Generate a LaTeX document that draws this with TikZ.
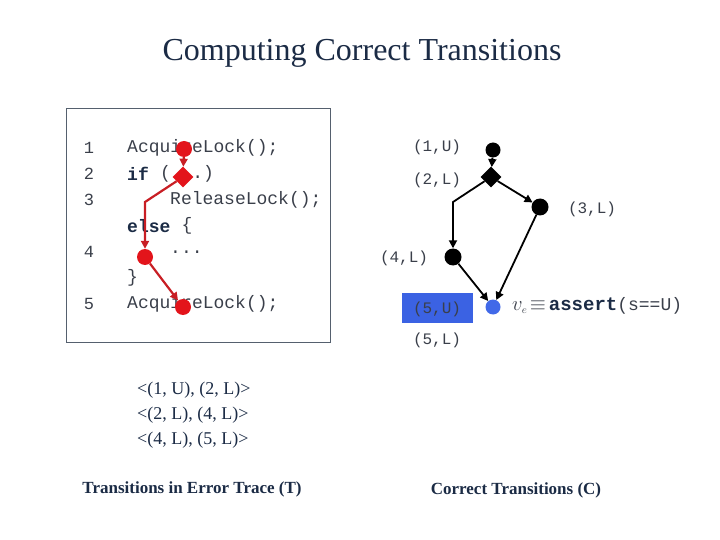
\documentclass[tikz,border=0pt]{standalone}
\usepackage{fontspec}
\setmainfont{Liberation Serif}
\setmonofont{Liberation Mono}
\usetikzlibrary{shapes.geometric,arrows.meta}
\definecolor{navy}{HTML}{1B2B45}
\definecolor{codegray}{HTML}{3A3F4A}
\definecolor{redn}{HTML}{E3141B}
\definecolor{rede}{HTML}{C81E24}
\definecolor{bluen}{HTML}{4169E8}
\definecolor{bluer}{HTML}{3B62E3}
\definecolor{boxc}{HTML}{55606E}
\begin{document}
\begin{tikzpicture}[x=1bp,y=-1bp,
  code/.style={font=\fontsize{18bp}{20bp}\ttfamily, text=codegray, inner sep=0, anchor=west},
  kw/.style={font=\fontsize{18bp}{20bp}\ttfamily\bfseries, text=navy, inner sep=0, anchor=west},
  lnum/.style={font=\fontsize{17bp}{20bp}\ttfamily, text=codegray, inner sep=0},
  lbl/.style={font=\fontsize{16bp}{18bp}\ttfamily, text=codegray, inner sep=0},
  serif/.style={font=\fontsize{18bp}{20bp}\selectfont, text=navy, inner sep=0, anchor=west},
  captext/.style={font=\fontsize{17bp}{20bp}\bfseries, text=navy, inner sep=0},
  rdot/.style={circle, fill=redn, minimum size=16bp, inner sep=0},
  rdia/.style={diamond, fill=redn, minimum size=21bp, inner sep=0},
  bdot/.style={circle, fill=black, minimum size=15bp, inner sep=0},
  bdia/.style={diamond, fill=black, minimum size=21bp, inner sep=0},
  tip/.style={-{Triangle[length=8bp,width=8bp]}},
  redge/.style={draw=rede, line width=2.2bp, tip},
  bedge/.style={draw=black, line width=1.8bp, tip}]
\useasboundingbox (0,0) rectangle (720,540);
% title
\node[font=\fontsize{32bp}{36bp}\selectfont, text=navy, inner sep=0] (title) at (362,53) {Computing Correct Transitions};
% code box
\draw[boxc, line width=0.8bp] (66,108) rectangle (330,342);
\node[lnum] (n1) at (89,148) {1};
\node[lnum] (n2) at (89,174) {2};
\node[lnum] (n3) at (89,200) {3};
\node[lnum] (n4) at (89,252) {4};
\node[lnum] (n5) at (89,304) {5};
\node[code] (c1) at (127,148) {AcquireLock();};
\node[kw] (c2) at (127,174) {if};
\node[code] (c2b) at (c2.east) {\ (...)};
\node[code] (c3) at (170,200) {ReleaseLock();};
\node[kw] (c4) at (127,226) {else};
\node[code] (c4b) at (c4.east) {\ \{};
\node[code] (c5) at (170,252) {...};
\node[code] (c6) at (127,278) {\}};
\node[code] (c7) at (127,304) {AcquireLock();};
% red trace
\node[rdot] (r1) at (184,149) {};
\node[rdia] (rd) at (183,177) {};
\node[rdot] (r4) at (145,257) {};
\node[rdot] (r5) at (183,307) {};
\coordinate (rb) at (145,202);
\draw[redge] (r1) -- (rd);
\draw[redge] (rd) -- (rb) -- (r4);
\draw[redge] (r4) -- (r5);
% right graph
\node[bdot] (b1) at (493,150) {};
\node[bdia] (bd) at (491,177) {};
\node[bdot, minimum size=17bp] (b3) at (540,207) {};
\node[bdot, minimum size=17bp] (b4) at (453,257) {};
\node[circle, fill=bluen, minimum size=15bp, inner sep=0] (b5) at (493,307) {};
\coordinate (bb) at (453,202);
\draw[bedge] (b1) -- (bd);
\draw[bedge] (bd) -- (bb) -- (b4);
\draw[bedge] (bd) -- (b3);
\draw[bedge] (b3) -- (b5);
\draw[bedge] (b4) -- (b5);
\node[lbl] (l1) at (437,147) {(1,U)};
\node[lbl] (l2) at (437,180) {(2,L)};
\node[lbl] (l3) at (592,209) {(3,L)};
\node[lbl] (l4) at (404,258) {(4,L)};
\node[fill=bluer, minimum width=71bp, minimum height=30bp, inner sep=0] (l5box) at (437.5,308) {};
\node[lbl] (l5) at (437,309) {(5,U)};
\node[lbl] (l6) at (437,340) {(5,L)};
\node[font=\fontsize{18bp}{20bp}\ttfamily, text=codegray, inner sep=0, anchor=west] (ve) at (512,306) {{\fontsize{22bp}{22bp}\selectfont$v_{\scriptscriptstyle e}\!\equiv$}\,{\fontsize{19bp}{20bp}\selectfont\bfseries\color{navy}assert}(s==U)};
% transitions
\node[serif] (t1) at (137,390) {<(1, U), (2, L)>};
\node[serif] (t2) at (137,415) {<(2, L), (4, L)>};
\node[serif] (t3) at (137,440) {<(4, L), (5, L)>};
\node[captext] (capT) at (192,489) {Transitions in Error Trace (T)};
\node[captext] (capC) at (516,490) {Correct Transitions (C)};
\end{tikzpicture}
\end{document}
